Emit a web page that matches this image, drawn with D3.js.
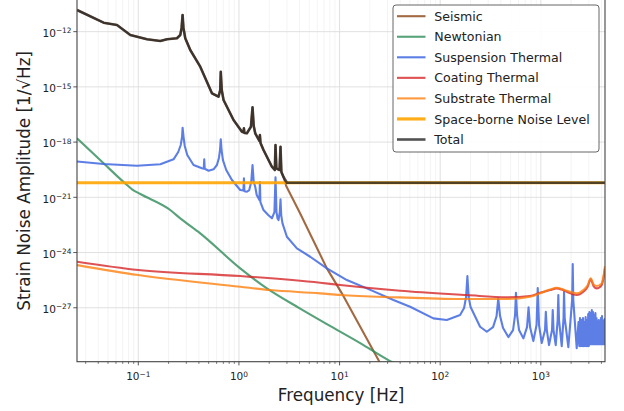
<!DOCTYPE html>
<html><head><meta charset="utf-8">
<script src="https://cdn.jsdelivr.net/npm/d3@7"></script>
<style>body{margin:0;background:#fff}svg{display:block}text{font-family:"DejaVu Sans",sans-serif;fill:#222}</style>
</head><body><svg id="c" width="624" height="411"></svg>
<script>
// ---------- data (frequency in Hz, amplitude in 1/sqrt(Hz)) ----------
const seismicFreq = [0.0246,0.0452,0.0614,0.0833,0.1220,0.1654,0.1928,0.2422,0.2614,0.2692,0.2755,0.2811,0.2929,0.3284,0.4127,0.5393,0.6270,0.6520,0.66,0.6749,0.7032,0.8840,1.071,1.108,1.121,1.134,1.200,1.316,1.365,1.403,1.452,1.598,1.616,1.639,1.755,2.127,2.273,2.309,2.357,2.531,2.589,2.642,2.773,2.950,4.061,7.48,10.54,24.34,31.8];
const seismicAmp = [1.51e-11,3.08e-12,2.31e-12,6.6e-13,3.86e-13,3.12e-13,3.86e-13,4.38e-13,6.6e-13,1.59e-12,8.1e-12,1.59e-12,4.38e-13,1.01e-13,1.25e-14,4.49e-16,2.93e-16,6.79e-16,6.70e-15,6.79e-16,1.94e-16,1.59e-17,3.67e-18,3.41e-18,5.62e-18,3.13e-18,3.01e-18,6.87e-18,7.78e-17,7.50e-18,3.01e-18,1.15e-18,2.43e-18,8.93e-19,3.72e-19,4.60e-20,3.05e-20,6.95e-19,3.77e-20,3.05e-20,5.62e-19,2.37e-20,1.27e-20,4.11e-21,1.32e-22,1.38e-25,6.07e-27,1.44e-30,1.04e-31];

const newtonianFreq = [0.0246,0.0452,0.0772,0.0866,0.1047,0.2078,0.2614,0.4127,1.03,1.897,4.06,7.48,16.02,31.8,40.0];
const newtonianAmp = [1.61e-18,7.05e-20,4.66e-21,2.72e-21,1.51e-21,2.04e-22,7.22e-23,1.10e-23,1.38e-25,1.13e-26,9.06e-28,1.30e-28,1.21e-29,1.27e-30,6.79e-31];

const suspensionFreq = [0.0246,0.0452,0.0971,0.1654,0.2241,0.2494,0.2642,0.2722,0.2755,0.2817,0.2896,0.3066,0.3540,0.4292,0.4472,0.4521,0.4574,0.4990,0.5597,0.6045,0.6328,0.6489,0.66,0.6718,0.6937,0.7479,0.8521,1.030,1.108,1.121,1.134,1.200,1.266,1.325,1.365,1.403,1.452,1.502,1.598,1.616,1.635,1.755,1.954,2.127,2.252,2.309,2.362,2.417,2.474,2.548,2.589,2.631,2.710,2.997,3.767,5.105,7.480,11.82,18.67,34.30,50.24,85.6,116.3,157.6,172.7,180.8,186.3,191.9,200.4,249.0,290.3,335.2,363.2,377.6,393.4,421.3,475.7,529.6,554.4,565.9,580.4,607.5,670.4,729.4,755.0,781.3,842.4,906.5,931.7,959.6,1021,1101,1121,1147,1206,1292,1313,1337,1406,1469,1492,1516,1613,1681,1700,1727,1876,2046,2074,2102,2273,2368,2409,2451,2493,2537,2581,2625,2665,2704,2745,2786,2827,2870,2913,2956,2997,3038,3081,3123,3166,3210,3254,3299,3344,3390,3437,3485,3529,3573,3619,3665,3710,3758,3806,3854,3903,3952,4002,4053,4100,4147,4195,4243,4292,4341];
const suspensionAmp = [8.83e-20,6.45e-20,5.22e-20,6.21e-20,1.16e-19,2.90e-19,6.95e-19,1.89e-18,6.07e-18,1.89e-18,6.14e-19,1.99e-19,5.69e-20,3.77e-20,3.63e-20,1.16e-19,3.54e-20,2.79e-20,3.33e-20,5.69e-20,1.37e-19,3.72e-19,1.42e-18,3.72e-19,1.06e-19,3.05e-20,8.71e-21,2.49e-21,2.34e-21,1.08e-20,2.12e-21,2.01e-21,2.49e-21,6.79e-21,5.69e-20,6.79e-21,3.77e-21,1.33e-21,7.13e-22,6.79e-21,5.56e-22,2.04e-22,1.09e-22,7.22e-23,1.59e-22,1.22e-20,1.59e-22,7.22e-23,5.84e-23,1.59e-22,7.78e-22,1.09e-22,3.86e-23,7.23e-24,1.69e-24,5.92e-25,1.38e-25,3.20e-26,1.13e-26,2.62e-27,1.13e-27,2.65e-28,2.15e-28,4.01e-28,9.64e-28,3.82e-27,5.28e-26,3.82e-27,1.09e-27,9.27e-29,4.96e-29,8.93e-29,3.54e-28,3.24e-27,3.54e-28,7.88e-29,2.56e-29,6.14e-29,4.01e-28,6.53e-27,4.01e-28,6.14e-29,2.17e-29,8.93e-29,1.05e-27,8.93e-29,1.55e-29,1.15e-28,1.18e-26,1.15e-28,1.21e-29,6.14e-29,6.07e-28,6.14e-29,9.39e-30,6.14e-29,7.50e-28,6.14e-29,9.39e-30,2.15e-28,4.90e-27,2.15e-28,8.28e-30,2.75e-28,7.13e-27,2.75e-28,7.31e-30,2.62e-27,2.37e-25,2.62e-27,6.45e-30,1.67e-28,8.28e-30,2.75e-28,8.28e-30,2.15e-28,8.28e-30,2.75e-28,8.28e-30,1.67e-28,8.28e-30,3.13e-28,8.28e-30,2.15e-28,8.28e-30,4.55e-28,8.28e-30,5.83e-28,1.06e-29,5.15e-28,1.06e-29,7.50e-28,1.06e-29,5.83e-28,1.06e-29,4.01e-28,1.06e-29,5.15e-28,1.06e-29,2.75e-28,1.06e-29,1.47e-28,1.06e-29,2.15e-28,1.06e-29,1.67e-28,1.06e-29,2.75e-28,1.06e-29,3.54e-28,1.06e-29,2.15e-28,1.06e-29,1.67e-28,1.06e-29,2.75e-28];

const coatingFreq = [0.0246,0.1,1.03,6.42,10.14,40.0,183.7,458.6,781,982,1234,1439,1613,1808,2273,2644,2909,3131,3344,3590,4025,4195,4341];
const coatingAmp = [3.16e-25,1.12e-25,5.28e-26,2.28e-26,1.71e-26,8.39e-27,4.90e-27,3.67e-27,4.33e-27,6.53e-27,9.16e-27,1.13e-26,9.75e-27,7.41e-27,4.90e-27,7.41e-27,1.33e-26,3.49e-26,1.51e-26,1.13e-26,1.71e-26,4.11e-26,1.38e-25];

const substrateFreq = [0.0246,0.1,1.03,2.046,6.42,10.14,40.0,183.7,458.6,781,982,1234,1439,1613,1808,2273,2644,2909,3131,3344,3590,4025,4195,4341];
const substrateAmp = [2.09e-25,5.98e-26,1.38e-26,9.16e-27,6.07e-27,4.90e-27,3.67e-27,2.97e-27,2.97e-27,3.96e-27,6.07e-27,9.75e-27,1.22e-26,1.04e-26,8.39e-27,6.07e-27,9.16e-27,1.61e-26,3.96e-26,1.82e-26,1.51e-26,2.12e-26,5.28e-26,1.85e-25];

const noiseLevelFreq = [0.0246,4341];
const noiseLevelAmp = [6.21e-21,6.21e-21];

const totalFreq = [0.0246,0.0452,0.0614,0.0833,0.1220,0.1654,0.1928,0.2422,0.2614,0.2692,0.2755,0.2811,0.2929,0.3284,0.4127,0.5393,0.6270,0.6520,0.66,0.6749,0.7032,0.8840,1.071,1.108,1.121,1.134,1.200,1.316,1.365,1.403,1.452,1.598,1.616,1.639,1.755,2.127,2.273,2.309,2.357,2.531,2.589,2.642,2.773,2.997,4341];
const totalAmp = [1.51e-11,3.08e-12,2.31e-12,6.6e-13,3.86e-13,3.12e-13,3.86e-13,4.38e-13,6.6e-13,1.59e-12,8.1e-12,1.59e-12,4.38e-13,1.01e-13,1.25e-14,4.49e-16,2.93e-16,6.79e-16,6.70e-15,6.79e-16,1.94e-16,1.59e-17,3.67e-18,3.41e-18,5.62e-18,3.13e-18,3.01e-18,6.87e-18,7.78e-17,7.50e-18,3.01e-18,1.15e-18,2.43e-18,8.93e-19,3.72e-19,4.60e-20,3.05e-20,6.95e-19,3.77e-20,3.05e-20,5.62e-19,2.37e-20,1.27e-20,6.21e-21,6.21e-21];

const seriesNames = ["Seismic","Newtonian","Suspension Thermal","Coating Thermal","Substrate Thermal","Space-borne Noise Level","Total"];
const xTickExps = [-1,0,1,2,3];
const yTickExps = [-12,-15,-18,-21,-24,-27];
const xDomain = [0.0246, 4341];
const yDomain = [1.175e-30, 5.25e-11];
const xLabel = "Frequency [Hz]";
const yLabel = "Strain Noise Amplitude [1/\u221AHz]";

// ---------- drawing ----------
const svg = d3.select("#c");
const P = {l:77, r:605, t:0, b:361.7};
const x = d3.scaleLog().domain(xDomain).range([P.l, P.r]);
const y = d3.scaleLog().domain(yDomain).range([P.b, P.t]);

const series = [
  {f:seismicFreq, a:seismicAmp, c:"#8b4513", w:2.1, o:0.8, curve:d3.curveLinear},
  {f:newtonianFreq, a:newtonianAmp, c:"#2e8b57", w:2.1, o:0.8, curve:d3.curveMonotoneX},
  {f:suspensionFreq, a:suspensionAmp, c:"#4169e1", w:2.1, o:0.85, curve:d3.curveLinear},
  {f:coatingFreq, a:coatingAmp, c:"#d62728", w:2.1, o:0.8, curve:d3.curveMonotoneX},
  {f:substrateFreq, a:substrateAmp, c:"#ff7f0e", w:2.1, o:0.8, curve:d3.curveMonotoneX},
  {f:noiseLevelFreq, a:noiseLevelAmp, c:"#ffa500", w:3.2, o:0.9, curve:d3.curveLinear},
  {f:totalFreq, a:totalAmp, c:"#262626", w:2.6, o:0.8, curve:d3.curveLinear}
];

svg.append("defs").append("clipPath").attr("id","clip")
  .append("rect").attr("x",P.l).attr("y",P.t-5).attr("width",P.r-P.l).attr("height",P.b-P.t+5);

// grid
const grid = svg.append("g");
const minorX = [];
for (let e=-2; e<=3; e++) for (let k=2; k<=9; k++) { const v=k*Math.pow(10,e); if (v>xDomain[0] && v<xDomain[1]) minorX.push(v); }
grid.selectAll(".mx").data(minorX).enter().append("line")
  .attr("x1",d=>x(d)).attr("x2",d=>x(d)).attr("y1",P.t).attr("y2",P.b)
  .attr("stroke","#ececec").attr("stroke-width",0.6);
grid.selectAll(".Mx").data(xTickExps).enter().append("line")
  .attr("x1",d=>x(Math.pow(10,d))).attr("x2",d=>x(Math.pow(10,d))).attr("y1",P.t).attr("y2",P.b)
  .attr("stroke","#dcdcdc").attr("stroke-width",0.9);
grid.selectAll(".My").data(yTickExps).enter().append("line")
  .attr("y1",d=>y(Math.pow(10,d))).attr("y2",d=>y(Math.pow(10,d))).attr("x1",P.l).attr("x2",P.r)
  .attr("stroke","#dcdcdc").attr("stroke-width",0.9);

// lines
const plot = svg.append("g").attr("clip-path","url(#clip)");
series.forEach(s => {
  const pts = s.f.map((f,i)=>[f, s.a[i]]);
  const line = d3.line().x(d=>x(d[0])).y(d=>y(d[1])).curve(s.curve);
  plot.append("path").attr("d", line(pts)).attr("fill","none")
    .attr("stroke", s.c).attr("stroke-width", s.w).attr("stroke-opacity", s.o)
    .attr("stroke-linejoin","round").attr("stroke-linecap","butt");
});

// spines
svg.append("rect").attr("x",P.l).attr("y",P.t-3).attr("width",P.r-P.l).attr("height",P.b-P.t+3)
  .attr("fill","none").attr("stroke","#444").attr("stroke-width",1.1);

// axes ticks
const ax = svg.append("g");
ax.selectAll(".tm").data(minorX).enter().append("line")
  .attr("x1",d=>x(d)).attr("x2",d=>x(d)).attr("y1",P.b).attr("y2",P.b+2.2)
  .attr("stroke","#444").attr("stroke-width",0.7);
ax.selectAll(".tM").data(xTickExps).enter().append("line")
  .attr("x1",d=>x(Math.pow(10,d))).attr("x2",d=>x(Math.pow(10,d))).attr("y1",P.b).attr("y2",P.b+3.7)
  .attr("stroke","#444").attr("stroke-width",0.9);
ax.selectAll(".tY").data(yTickExps).enter().append("line")
  .attr("y1",d=>y(Math.pow(10,d))).attr("y2",d=>y(Math.pow(10,d))).attr("x1",P.l-3.7).attr("x2",P.l)
  .attr("stroke","#444").attr("stroke-width",0.9);

function powLabel(sel, e) {
  sel.append("tspan").text("10");
  sel.append("tspan").attr("dy","-0.48em").attr("font-size","7.4px").text((e<0?"\u2212":"")+Math.abs(e));
}
ax.selectAll(".lx").data(xTickExps).enter().append("text")
  .attr("x",d=>x(Math.pow(10,d))).attr("y",P.b+18.5).attr("text-anchor","middle")
  .attr("font-size","10.5px").each(function(d){ powLabel(d3.select(this), d); });
ax.selectAll(".ly").data(yTickExps).enter().append("text")
  .attr("x",P.l-5.5).attr("y",d=>y(Math.pow(10,d))+5.2).attr("text-anchor","end")
  .attr("font-size","10.5px").each(function(d){ powLabel(d3.select(this), d); });

svg.append("text").attr("x",(P.l+P.r)/2).attr("y",401).attr("text-anchor","middle")
  .attr("font-size","16.8px").text(xLabel);
svg.append("text").attr("transform",`translate(30,${(P.t+P.b)/2}) rotate(-90)`).attr("text-anchor","middle")
  .attr("font-size","16.8px").text(yLabel);

// legend
const lg = svg.append("g");
lg.append("rect").attr("x",393).attr("y",5).attr("width",206).attr("height",147).attr("rx",3)
  .attr("fill","#fff").attr("fill-opacity",0.9).attr("stroke","#555").attr("stroke-width",0.9);
seriesNames.forEach((n,i)=>{
  const yy = 16.2 + i*20.55;
  const s = series[i];
  lg.append("line").attr("x1",397).attr("x2",425.5).attr("y1",yy).attr("y2",yy)
    .attr("stroke",s.c).attr("stroke-width",s.w).attr("stroke-opacity",s.o);
  lg.append("text").attr("x",434.3).attr("y",yy+4.6).attr("font-size","12.6px").text(n);
});
</script></body></html>
